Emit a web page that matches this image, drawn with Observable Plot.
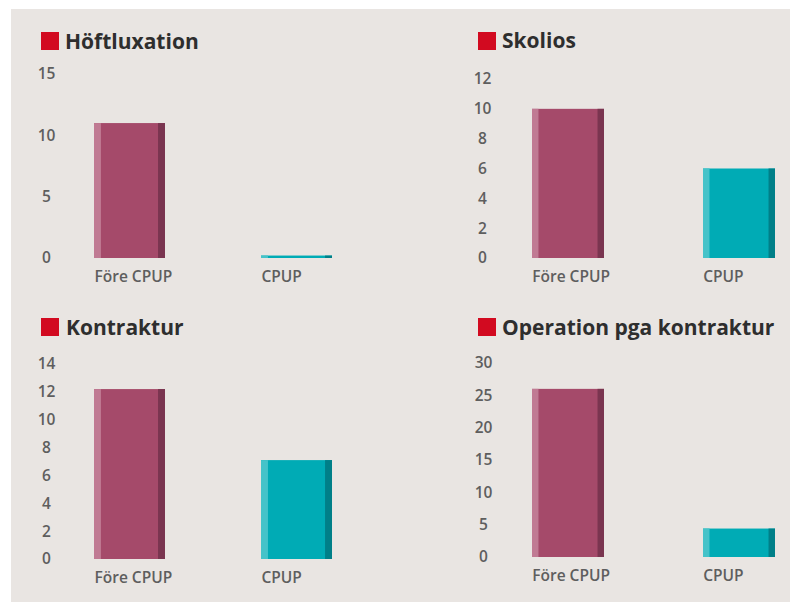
<!DOCTYPE html>
<html><head><meta charset="utf-8">
<script src="https://cdn.jsdelivr.net/npm/d3@7"></script>
<script src="https://cdn.jsdelivr.net/npm/@observablehq/plot@0.6"></script>
<style>
html,body{margin:0;padding:0;}
body{background:#fff;width:790px;height:602px;overflow:hidden;position:relative;font-family:"Open Sans",sans-serif;}
#bg{position:absolute;left:11px;top:9px;width:779px;height:593px;background:#e9e5e2;}
.panel{position:absolute;}
.title{position:absolute;font-weight:700;font-size:21px;line-height:21px;color:#2e2e2e;white-space:nowrap;}
.sq{position:absolute;width:18px;height:18px;background:#d20a20;}
</style></head><body>
<div id="bg"></div>
<script>
const categories = ["Före CPUP", "CPUP"];
const titles = ["Höftluxation", "Skolios", "Kontraktur", "Operation pga kontraktur"];
const hoftluxation = [11, 0.2];
const skolios = [10, 6];
const kontraktur = [12.2, 7.1];
const operation = [26, 4.4];
const ticksHoft = [0, 5, 10, 15];
const ticksSkolios = [0, 2, 4, 6, 8, 10, 12];
const ticksKontraktur = [0, 2, 4, 6, 8, 10, 12, 14];
const ticksOperation = [0, 5, 10, 15, 20, 25, 30];

const mainColors = ["#a54a6a", "#00abb5"];
const lightColors = ["#c07a93", "#45c3c9"];
const darkColors = ["#7a3550", "#007f88"];

const panels = [
  {title: titles[0], values: hoftluxation, ticks: ticksHoft, left: 0, top: 60, height: 240, mt: 14, mb: 42, range: [93, 332], yc: 46, sq: [41, 32], tx: 65, base: 50},
  {title: titles[1], values: skolios, ticks: ticksSkolios, left: 400, top: 60, height: 240, mt: 19, mb: 42, range: [132, 376], yc: 82, sq: [478, 32], tx: 502, base: 49},
  {title: titles[2], values: kontraktur, ticks: ticksKontraktur, left: 0, top: 350, height: 250, mt: 14, mb: 41, range: [93, 332], yc: 46, sq: [41, 318], tx: 66, base: 336},
  {title: titles[3], values: operation, ticks: ticksOperation, left: 400, top: 350, height: 250, mt: 13, mb: 43, range: [132, 376], yc: 83, sq: [478, 318], tx: 502, base: 336}
];

const pad = 0.577;
const strip = 7;

for (const P of panels) {
  const bw = (P.range[1] - P.range[0]) * (1 - pad) / (2 - pad);
  const rows = categories.map((c, i) => ({cat: c, value: P.values[i], i}));
  const chart = Plot.plot({
    width: 390,
    height: P.height,
    marginTop: P.mt,
    marginBottom: P.mb,
    marginLeft: P.yc + 14,
    marginRight: 0,
    style: {background: "transparent", fontFamily: "'Open Sans', sans-serif", fontSize: "15.5px", fontWeight: 600, color: "#5e5e5e"},
    x: {type: "band", domain: categories, range: P.range, paddingInner: pad, paddingOuter: 0},
    y: {domain: [0, P.ticks[P.ticks.length - 1]]},
    color: {type: "identity"},
    marks: [
      Plot.barY(rows, {x: "cat", y: "value", fill: d => mainColors[d.i]}),
      Plot.barY(rows, {x: "cat", y: "value", fill: d => lightColors[d.i], insetRight: bw - strip}),
      Plot.barY(rows, {x: "cat", y: "value", fill: d => darkColors[d.i], insetLeft: bw - strip}),
      Plot.axisY({ticks: P.ticks, tickSize: 0, tickPadding: 14, textAnchor: "middle", label: null}),
      Plot.axisX({tickSize: 0, tickPadding: 12, textAnchor: "start", dx: -bw / 2, label: null})
    ]
  });
  const wrap = document.createElement("div");
  wrap.className = "panel";
  wrap.style.left = P.left + "px";
  wrap.style.top = P.top + "px";
  wrap.appendChild(chart);
  document.body.appendChild(wrap);

  const sq = document.createElement("div");
  sq.className = "sq";
  sq.style.left = P.sq[0] + "px";
  sq.style.top = P.sq[1] + "px";
  document.body.appendChild(sq);

  const t = document.createElement("div");
  t.className = "title";
  t.textContent = P.title;
  t.style.left = P.tx + "px";
  t.style.top = (P.base - 18.6) + "px";
  document.body.appendChild(t);
}
</script>
</body></html>
